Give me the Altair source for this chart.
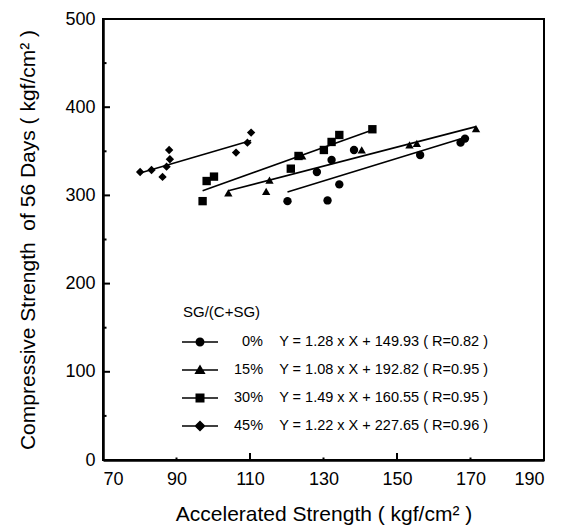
import altair as alt
import pandas as pd

# ---- data ----
groups = ["0%", "15%", "30%", "45%"]
equations = [
    "Y = 1.28 x X + 149.93 ( R=0.82 )",
    "Y = 1.08 x X + 192.82 ( R=0.95 )",
    "Y = 1.49 x X + 160.55 ( R=0.95 )",
    "Y = 1.22 x X + 227.65 ( R=0.96 )",
]
shapes = ["circle", "triangle-up", "square", "diamond"]

x0 = [120.2, 128.2, 131.1, 132.2, 134.3, 138.3, 156.3, 167.3, 168.5]
y0 = [293.5, 326.5, 294.3, 340.2, 312.5, 351.5, 345.8, 359.8, 364.4]
x15 = [104.1, 114.4, 115.3, 124.2, 140.4, 153.4, 155.4, 171.5]
y15 = [303.0, 304.5, 317.4, 344.7, 351.5, 357.2, 359.0, 375.8]
x30 = [97.1, 98.2, 100.2, 121.1, 123.2, 130.1, 132.2, 134.3, 143.3]
y30 = [293.5, 316.3, 321.3, 330.3, 344.7, 351.5, 360.6, 368.5, 375.0]
x45 = [80.1, 83.2, 86.2, 87.3, 88.2, 88.0, 106.2, 109.3, 110.3]
y45 = [326.5, 328.8, 321.0, 332.6, 341.0, 351.5, 348.5, 359.8, 371.2]

# regression line end points
line_x0 = [120.2, 168.5]
line_y0 = [303.8, 365.6]
line_x15 = [104.1, 171.5]
line_y15 = [305.2, 378.0]
line_x30 = [97.1, 143.3]
line_y30 = [305.2, 374.1]
line_x45 = [80.1, 110.3]
line_y45 = [325.4, 362.2]

x_ticks = [70, 90, 110, 130, 150, 170, 190]
x_major_ticks = [110, 150]
x_minor_ticks = [90, 130, 170]
y_ticks = [0, 100, 200, 300, 400, 500]
y_minor_ticks = [50, 150, 250, 350, 450]

NB = "\u00a0"
ZW = "\u200b"
labels = []
for g, e in zip(groups, equations):
    pad = ZW + NB * 2 if len(g) == 2 else ""
    labels.append(pad + g + NB * 4 + e)

# ---- tables ----
pts = []
for i, (xs, ys) in enumerate([(x0, y0), (x15, y15), (x30, y30), (x45, y45)]):
    for a, b in zip(xs, ys):
        pts.append({"group": groups[i], "label": labels[i], "x": a, "y": b})
pts = pd.DataFrame(pts)

lns = []
for i, (xs, ys) in enumerate([(line_x0, line_y0), (line_x15, line_y15),
                              (line_x30, line_y30), (line_x45, line_y45)]):
    for j, (a, b) in enumerate(zip(xs, ys)):
        lns.append({"group": groups[i], "x": a, "y": b, "o": j})
lns = pd.DataFrame(lns)

xs_scale = alt.Scale(domain=[70, 190], nice=False, zero=False)
ys_scale = alt.Scale(domain=[0, 500], nice=False)

W, H = 441, 441

# legend symbols: thin bar (line) + marker, all filled
bar = "M-2,-0.07H2V0.07H-2Z"
sym_paths = [
    bar + "M-0.5,0A0.5,0.5,0,1,1,0.5,0A0.5,0.5,0,1,1,-0.5,0Z",
    bar + "M0,-0.6L0.62,0.45L-0.62,0.45Z",
    bar + "M-0.5,-0.5H0.5V0.5H-0.5Z",
    bar + "M0,-0.62L0.62,0L0,0.62L-0.62,0Z",
]
shape_expr = "[" + ",".join("'" + p + "'" for p in sym_paths) + "][datum.index]"

points = alt.Chart(pts).mark_point(filled=True, size=70, opacity=1).encode(
    x=alt.X("x:Q", scale=xs_scale,
            axis=alt.Axis(values=x_ticks, format="d", ticks=False, labelPadding=10,
                          title="Accelerated Strength ( kgf/cm² )", titlePadding=15,
                          grid=False, domainWidth=2.5)),
    y=alt.Y("y:Q", scale=ys_scale,
            axis=alt.Axis(values=y_ticks, format="d", ticks=False, labelPadding=8,
                          title="Compressive Strength " + NB + "of 56 Days ( kgf/cm² )",
                          titlePadding=26, grid=False, domainWidth=2.5)),
    shape=alt.Shape("group:N", scale=alt.Scale(domain=groups, range=shapes), legend=None),
    color=alt.Color(
        "label:N",
        scale=alt.Scale(domain=labels, range=["black"] * 4),
        legend=alt.Legend(
            title="SG/(C+SG)", orient="none", legendX=80, legendY=286,
            padding=0, symbolSize=324, symbolOffset=8, labelOffset=25,
            rowPadding=12, titlePadding=13, labelLimit=400,
            titleFontSize=15, titleFontWeight="normal", labelFontSize=14.5,
            titleColor="black", labelColor="black",
            symbolType=alt.ExprRef(expr=shape_expr),
            symbolStrokeWidth=0, symbolOpacity=1,
        ),
    ),
)

lines = alt.Chart(lns).mark_line(strokeWidth=1.6, color="black").encode(
    x="x:Q",
    y="y:Q",
    detail="group:N",
    order="o:Q",
)

ytm = pd.DataFrame({"v": y_ticks})
ytn = pd.DataFrame({"v": y_minor_ticks})
xtm = pd.DataFrame({"v": x_major_ticks})
xtn = pd.DataFrame({"v": x_minor_ticks})

y_major = alt.Chart(ytm).mark_rule(color="black", strokeWidth=2).encode(
    y="v:Q", x=alt.value(0), x2=alt.value(7))
y_minor = alt.Chart(ytn).mark_rule(color="black", strokeWidth=2).encode(
    y="v:Q", x=alt.value(0), x2=alt.value(3.5))
x_major = alt.Chart(xtm).mark_rule(color="black", strokeWidth=2).encode(
    x="v:Q", y=alt.value(H), y2=alt.value(H - 7))
x_minor = alt.Chart(xtn).mark_rule(color="black", strokeWidth=2).encode(
    x="v:Q", y=alt.value(H), y2=alt.value(H - 2.5))

chart = alt.layer(points, lines, y_major, y_minor, x_major, x_minor).properties(
    width=W, height=H,
    autosize=alt.AutoSizeParams(type="none"),
    padding={"left": 95, "top": 11, "right": 15, "bottom": 70},
).configure(
    font="Liberation Sans",
).configure_view(
    stroke="black", strokeWidth=2,
).configure_axis(
    labelFontSize=18, titleFontSize=21, titleFontWeight="normal",
    labelColor="black", titleColor="black", domainColor="black",
)

chart.save("out.html", embed_options={"renderer": "svg", "actions": False})
